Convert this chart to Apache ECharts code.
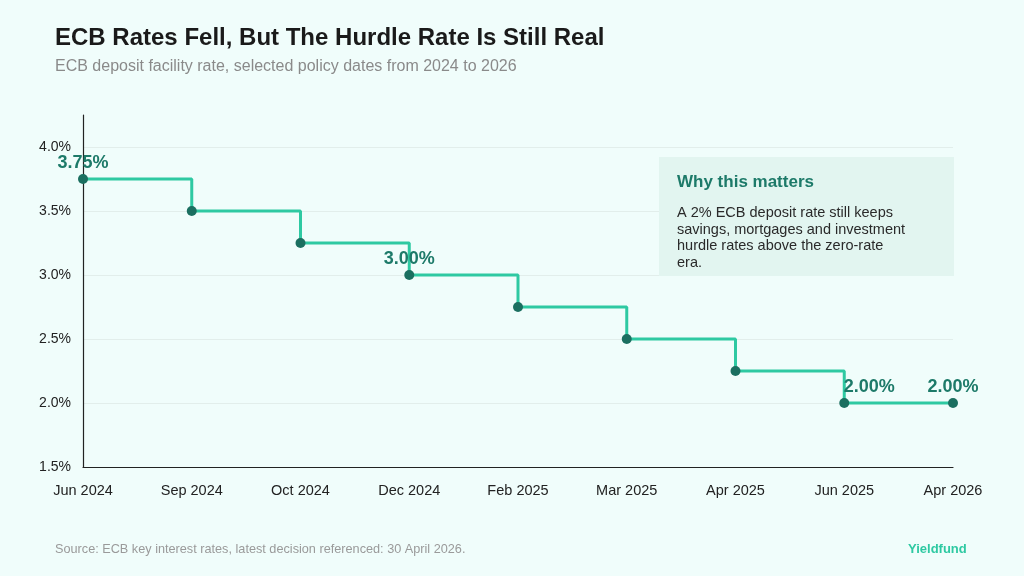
<!DOCTYPE html>
<html>
<head>
<meta charset="utf-8">
<script src="https://cdn.jsdelivr.net/npm/echarts@6/dist/echarts.min.js"></script>
<style>
  html, body { margin: 0; padding: 0; background: #f0fdfb; }
  #chart { width: 1024px; height: 576px; }
</style>
</head>
<body>
<div id="chart"></div>
<script>
// ECB deposit facility rate at selected decision dates
var dates = ['Jun 2024', 'Sep 2024', 'Oct 2024', 'Dec 2024', 'Feb 2025', 'Mar 2025', 'Apr 2025', 'Jun 2025', 'Apr 2026'];
var rates = [3.75, 3.5, 3.25, 3.0, 2.75, 2.5, 2.25, 2.0, 2.0];
// points that get a value label
var labelled = [0, 3, 7, 8];
var yTicks = [1.5, 2.0, 2.5, 3.0, 3.5, 4.0];

var chart = echarts.init(document.getElementById('chart'));

var seriesData = rates.map(function (v, i) {
    var item = { value: v };
    if (labelled.indexOf(i) >= 0) {
        item.label = {
            show: true,
            position: 'top',
            distance: 2,
            formatter: function (p) { return p.value.toFixed(2) + '%'; },
            color: '#1d7a69',
            fontSize: 18,
            fontWeight: 'bold'
        };
        if (i === 7) item.label.offset = [25, 0];
    }
    return item;
});

var option = {
    backgroundColor: '#f0fdfb',
    textStyle: { fontFamily: 'Liberation Sans, Arial, sans-serif' },
    grid: { left: 83, right: 71, top: 115, bottom: 109 },
    xAxis: {
        type: 'category',
        data: dates,
        boundaryGap: false,
        axisLine: { lineStyle: { color: '#222', width: 1.2 } },
        axisTick: { show: false },
        axisLabel: { color: '#222', fontSize: 14.5, margin: 16 }
    },
    yAxis: {
        type: 'value',
        min: 1.5,
        max: 4.25,
        interval: 0.5,
        axisLine: { show: true, lineStyle: { color: '#222', width: 1.2 } },
        axisTick: { show: false },
        axisLabel: {
            color: '#222',
            fontSize: 14,
            margin: 12,
            formatter: function (v) {
                return yTicks.indexOf(Math.round(v * 100) / 100) >= 0 ? v.toFixed(1) + '%' : '';
            }
        },
        splitLine: {
            lineStyle: {
                color: ['transparent', '#e2eeeb', '#e2eeeb', '#e2eeeb', '#e2eeeb', '#e2eeeb', 'transparent']
            }
        }
    },
    series: [{
        type: 'line',
        step: 'end',
        data: seriesData,
        symbol: 'circle',
        symbolSize: 10,
        lineStyle: { color: '#2ec9a2', width: 3 },
        itemStyle: { color: '#1b6f60' },
        label: { show: false },
        z: 3
    }],
    graphic: [
        {
            type: 'text', left: 55, top: 26,
            style: { text: 'ECB Rates Fell, But The Hurdle Rate Is Still Real', fill: '#1a1a1a', font: 'bold 24px Liberation Sans, Arial, sans-serif' }
        },
        {
            type: 'text', left: 55, top: 59,
            style: { text: 'ECB deposit facility rate, selected policy dates from 2024 to 2026', fill: '#8a8a8a', font: '16px Liberation Sans, Arial, sans-serif' }
        },
        {
            type: 'group', left: 659, top: 157, z: 100,
            children: [
                { type: 'rect', z: 100, shape: { x: 0, y: 0, width: 295, height: 119 }, style: { fill: '#e2f5f0' } },
                { type: 'text', z: 101, x: 18, y: 17, style: { text: 'Why this matters', fill: '#1d7a69', font: 'bold 17px Liberation Sans, Arial, sans-serif' } },
                {
                    type: 'text', z: 101, x: 18, y: 48,
                    style: {
                        text: 'A 2% ECB deposit rate still keeps\nsavings, mortgages and investment\nhurdle rates above the zero-rate\nera.',
                        fill: '#2a2a2a', font: '14.5px Liberation Sans, Arial, sans-serif', lineHeight: 16.5
                    }
                }
            ]
        },
        {
            type: 'text', left: 55, top: 543,
            style: { text: 'Source: ECB key interest rates, latest decision referenced: 30 April 2026.', fill: '#9a9a9a', font: '12.7px Liberation Sans, Arial, sans-serif' }
        },
        {
            type: 'text', left: 908, top: 543,
            style: { text: 'Yieldfund', fill: '#2ec9a2', font: 'bold 13px Liberation Sans, Arial, sans-serif' }
        }
    ]
};

chart.setOption(option);
</script>
</body>
</html>
